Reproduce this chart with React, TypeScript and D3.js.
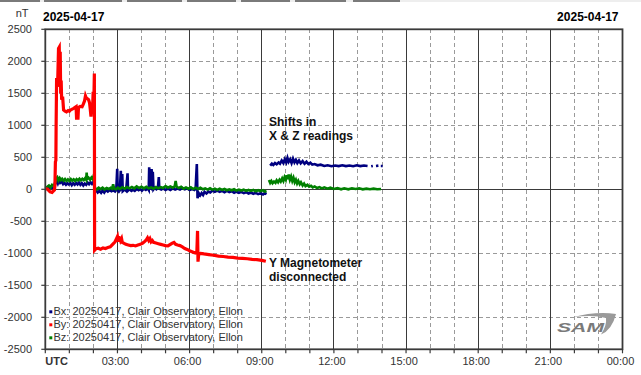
import React from 'react'
import * as d3 from 'd3'

type Pt = [number, number | null]

// hours (UTC) / nT
const bx: Pt[] = [
  [0.0, 10], [0.1, 25], [0.2, 30], [0.3, 20], [0.38, 40], [0.42, 100], [0.47, 130], [0.52, 90],
  [0.57, 140], [0.62, 100], [0.68, 120], [0.74, 80], [0.8, 100], [0.86, 70], [0.92, 95], [0.98, 75],
  [1.04, 100], [1.1, 65], [1.16, 95], [1.22, 70], [1.28, 100], [1.34, 75], [1.4, 105], [1.46, 70],
  [1.52, 95], [1.58, 60], [1.64, 90], [1.7, 70], [1.76, 105], [1.82, 80], [1.88, 110], [1.94, 85],
  [2.0, 115], [2.04, 95], [2.06, -40],
  [2.12, -20], [2.18, -50], [2.25, -25], [2.32, -55], [2.38, -20], [2.45, -50], [2.52, -10],
  [2.6, -35], [2.68, -10], [2.75, -30], [2.82, -15], [2.9, -35], [2.95, -10], [2.99, 320],
  [3.01, -10], [3.06, -35], [3.1, -15], [3.14, 290], [3.16, -20], [3.2, 240], [3.22, -30],
  [3.3, -5], [3.36, -25], [3.42, 250], [3.44, -20], [3.5, 0], [3.58, -25], [3.65, -5], [3.72, -25],
  [3.8, 5], [3.88, -15], [3.95, 5], [4.02, -20], [4.1, 10], [4.18, -10], [4.26, 15], [4.3, -10],
  [4.32, 345], [4.36, 0], [4.42, 315], [4.45, -20], [4.47, 275], [4.5, 0], [4.55, 25], [4.62, 0],
  [4.68, 20], [4.72, 190], [4.74, 10], [4.82, -5], [4.9, 15], [5.0, -10], [5.1, 10], [5.2, -10],
  [5.3, 15], [5.4, -5], [5.5, 10], [5.6, -5], [5.7, 20], [5.8, 0], [5.9, 15], [6.0, -10],
  [6.1, 5], [6.2, -10], [6.25, 10], [6.3, 395], [6.33, -140], [6.38, -60], [6.44, -95],
  [6.5, -60], [6.56, -90], [6.62, -40], [6.7, -65], [6.78, -35], [6.86, -50], [6.95, -20],
  [7.05, -40], [7.15, -20], [7.25, -40], [7.35, -25], [7.45, -45], [7.55, -25], [7.65, -45],
  [7.75, -30], [7.85, -55], [7.95, -35], [8.05, -55], [8.15, -40], [8.25, -60], [8.35, -45],
  [8.45, -65], [8.55, -50], [8.65, -70], [8.75, -55], [8.85, -75], [8.95, -60], [9.05, -80],
  [9.12, -60], [9.2, -75],
  [9.25, null],
  [9.35, 370], [9.42, 400], [9.48, 380], [9.55, 410], [9.62, 390], [9.7, 420], [9.76, 400],
  [9.83, 450], [9.9, 410], [9.96, 470], [10.02, 420], [10.07, 490], [10.12, 430], [10.18, 470],
  [10.24, 410], [10.3, 480], [10.36, 420], [10.42, 460], [10.48, 410], [10.55, 450], [10.62, 405],
  [10.7, 440], [10.78, 400], [10.86, 430], [10.94, 395], [11.02, 415], [11.1, 385], [11.2, 395],
  [11.32, 375], [11.45, 385], [11.6, 365], [11.74, 375], [11.9, 360], [12.05, 372], [12.2, 362],
  [12.35, 375], [12.5, 362], [12.65, 372], [12.8, 360], [12.95, 375], [13.1, 362], [13.25, 372],
  [13.4, 365],
  [13.47, null], [13.55, 360], [13.62, 365], [13.68, null], [13.75, 365], [13.85, 370],
  [13.9, null], [13.95, 365], [14.03, 365],
]

const by: Pt[] = [
  [0.0, 10], [0.1, 0], [0.15, -20], [0.2, -40], [0.28, -50], [0.33, -30], [0.38, -10], [0.4, 60],
  [0.42, 430], [0.44, 450], [0.45, 1000], [0.47, 1740], [0.5, 1600], [0.52, 1750], [0.55, 2200],
  [0.58, 2220], [0.6, 1700], [0.62, 2150], [0.64, 1500], [0.66, 1700], [0.68, 1400], [0.72, 1450],
  [0.76, 1240], [0.82, 1220], [0.88, 1210], [0.95, 1230], [1.0, 1220], [1.05, 1240], [1.1, 1250],
  [1.18, 1265], [1.24, 1280], [1.28, 1290], [1.3, 1110], [1.36, 1110], [1.38, 1280], [1.45, 1295],
  [1.53, 1290], [1.58, 1330], [1.63, 1380], [1.67, 1460], [1.7, 1430], [1.74, 1420], [1.8, 1400],
  [1.84, 1350], [1.87, 1250], [1.9, 1135], [1.93, 1300], [1.96, 1200], [1.99, 1525], [2.02, 1400],
  [2.04, 1810], [2.05, -950], [2.1, -930], [2.2, -920], [2.3, -935], [2.4, -915], [2.5, -925],
  [2.6, -910], [2.7, -900], [2.75, -880], [2.8, -860], [2.85, -840], [2.9, -820], [2.95, -780],
  [3.0, -740], [3.03, -820], [3.06, -750], [3.1, -760], [3.13, -800], [3.17, -770], [3.2, -830],
  [3.26, -840], [3.35, -860], [3.45, -870], [3.55, -880], [3.65, -875], [3.75, -885], [3.85, -870],
  [3.95, -860], [4.05, -840], [4.15, -810], [4.2, -790], [4.25, -760], [4.3, -800], [4.35, -770],
  [4.4, -820], [4.45, -800], [4.5, -830], [4.6, -840], [4.7, -850], [4.8, -860], [4.9, -870],
  [5.0, -880], [5.1, -885], [5.2, -860], [5.28, -840], [5.35, -830], [5.42, -860], [5.5, -870],
  [5.6, -880], [5.7, -900], [5.8, -925], [5.9, -940], [6.0, -960], [6.1, -975], [6.2, -990],
  [6.3, -1000], [6.33, -650], [6.35, -1130], [6.38, -1010], [6.45, -1000], [6.6, -1010],
  [6.8, -1020], [7.0, -1030], [7.2, -1045], [7.4, -1050], [7.6, -1060], [7.8, -1065],
  [8.0, -1075], [8.2, -1080], [8.4, -1085], [8.6, -1095], [8.8, -1100], [9.0, -1110], [9.17, -1125],
]

const bz: Pt[] = [
  [0.0, 20], [0.08, 40], [0.15, 60], [0.22, 30], [0.28, 70], [0.35, 50], [0.4, 100], [0.42, 110],
  [0.45, 170], [0.5, 190], [0.55, 140], [0.6, 175], [0.65, 145], [0.7, 165], [0.76, 135],
  [0.82, 160], [0.88, 130], [0.94, 155], [1.0, 130], [1.06, 160], [1.12, 135], [1.18, 155],
  [1.24, 130], [1.3, 160], [1.36, 140], [1.42, 165], [1.48, 140], [1.54, 165], [1.6, 145],
  [1.66, 175], [1.7, 150], [1.72, 260], [1.74, 160], [1.8, 180], [1.86, 150], [1.92, 185],
  [1.97, 160], [2.01, 210], [2.04, 180], [2.06, 20],
  [2.14, 0], [2.22, 25], [2.3, 5], [2.38, 25], [2.46, 0], [2.55, 20], [2.64, 5], [2.72, 25],
  [2.78, 10], [2.82, 80], [2.86, 15], [2.94, 0], [3.02, 25], [3.1, 5], [3.2, 30], [3.3, 10],
  [3.4, 35], [3.5, 15], [3.6, 35], [3.7, 15], [3.8, 45], [3.9, 20], [4.0, 40], [4.1, 15],
  [4.2, 40], [4.3, 15], [4.4, 30], [4.5, 10], [4.6, 35], [4.7, 15], [4.8, 35], [4.9, 20],
  [5.0, 50], [5.1, 25], [5.2, 45], [5.3, 25], [5.38, 45], [5.42, 130], [5.46, 40], [5.55, 20],
  [5.65, 40], [5.75, 10], [5.85, 30], [5.95, 10], [6.05, 30], [6.15, 5], [6.25, 25], [6.35, 5],
  [6.45, 25], [6.55, 0], [6.65, 15], [6.75, -5], [6.85, 15], [6.95, -5], [7.05, 10], [7.15, -10],
  [7.25, 10], [7.35, -10], [7.45, 5], [7.55, -15], [7.65, 0], [7.75, -15], [7.85, 0], [7.95, -20],
  [8.05, -5], [8.15, -20], [8.25, -5], [8.35, -25], [8.45, -10], [8.55, -25], [8.65, -10],
  [8.75, -30], [8.85, -15], [8.95, -30], [9.05, -15], [9.12, -35], [9.2, -25],
  [9.25, null],
  [9.3, 145], [9.35, 100], [9.4, 130], [9.45, 95], [9.51, 120], [9.57, 100], [9.62, 140],
  [9.68, 110], [9.74, 150], [9.79, 120], [9.85, 170], [9.9, 130], [9.95, 190], [10.0, 150],
  [10.04, 220], [10.08, 160], [10.12, 230], [10.17, 150], [10.22, 200], [10.27, 130], [10.32, 180],
  [10.37, 110], [10.42, 150], [10.47, 90], [10.52, 130], [10.58, 80], [10.63, 110], [10.7, 60],
  [10.76, 90], [10.82, 50], [10.9, 70], [10.97, 40], [11.05, 55], [11.12, 30], [11.2, 45],
  [11.3, 20], [11.4, 35], [11.5, 15], [11.6, 30], [11.74, 10], [11.85, 25], [12.0, 5], [12.15, 20],
  [12.3, 0], [12.43, 15], [12.6, 0], [12.75, 15], [12.9, 5], [13.05, 15], [13.2, 0], [13.35, 10],
  [13.5, 0], [13.65, 10], [13.8, 0], [13.96, 5],
]

const series = [
  { name: 'Bx', data: bx, color: '#000080', width: 2.6 },
  { name: 'Bz', data: bz, color: '#008000', width: 2.6 },
  { name: 'By', data: by, color: '#ff0000', width: 3.2 },
]
const legendItems = [
  { label: 'Bx: 20250417, Clair Observatory, Ellon', color: '#000080' },
  { label: 'By: 20250417, Clair Observatory, Ellon', color: '#ff0000' },
  { label: 'Bz: 20250417, Clair Observatory, Ellon', color: '#008000' },
]
const yTicks = [2500, 2000, 1500, 1000, 500, 0, -500, -1000, -1500, -2000, -2500]
const xLabels = ['UTC', '03:00', '06:00', '09:00', '12:00', '15:00', '18:00', '21:00', '00:00']
const dateLabel = '2025-04-17'

const W = 641
const H = 375
const font = 'Liberation Sans, Arial, sans-serif'

export default function App() {
  const x = d3.scaleLinear().domain([0, 24]).range([45.3, 622.5])
  const y = d3.scaleLinear().domain([-2500, 2500]).range([349.3, 29.3])
  const line = d3.line<Pt>()
    .defined((d) => d[1] !== null)
    .x((d) => x(d[0]))
    .y((d) => y(d[1] as number))

  const hours = d3.range(0, 25)

  return (
    <svg width={W} height={H} style={{ position: 'absolute', left: 0, top: 0, background: '#fff' }}
      fontFamily={font}>
      {/* strip at the very top */}
      <rect x={0} y={0} width={W} height={2} fill="#eeeeee" />
      {[[0, 40], [44, 122], [127, 182], [187, 236], [241, 290], [295, 346], [353, 400]].map(([a, b], i) => (
        <rect key={i} x={a} y={0} width={b - a} height={2} fill="#7a7a7a" />
      ))}

      {/* grid */}
      <g shapeRendering="crispEdges">
        {yTicks.filter((t) => t !== 0 && Math.abs(t) !== 2500).map((t) => (
          <line key={t} x1={x(0)} x2={x(24)} y1={y(t)} y2={y(t)} stroke="#9a9a9a" strokeDasharray="4,3" />
        ))}
        {hours.filter((h) => h % 3 !== 0).map((h) => (
          <line key={h} x1={x(h)} x2={x(h)} y1={y(2500)} y2={y(-2500)} stroke="#9a9a9a" strokeDasharray="4,3" />
        ))}
        {hours.filter((h) => h % 3 === 0 && h > 0 && h < 24).map((h) => (
          <line key={h} x1={x(h)} x2={x(h)} y1={y(2500)} y2={y(-2500)} stroke="#3a3a3a" strokeWidth={1} />
        ))}
        <line x1={x(0)} x2={x(24)} y1={y(0)} y2={y(0)} stroke="#3a3a3a" strokeWidth={1} />
      </g>

      {/* data */}
      {series.map((s) => (
        <path key={s.name} d={line(s.data) || ''} fill="none" stroke={s.color}
          strokeWidth={s.width} strokeLinejoin="miter" />
      ))}

      {/* frame */}
      <rect x={x(0)} y={y(2500)} width={x(24) - x(0)} height={y(-2500) - y(2500)}
        fill="none" stroke="#3a3a3a" strokeWidth={1.8} />
      {/* ticks */}
      {hours.map((h) => (
        <line key={h} x1={x(h)} x2={x(h)} y1={y(-2500)} y2={y(-2500) + 4} stroke="#3a3a3a" strokeWidth={1.2} />
      ))}
      {yTicks.map((t) => (
        <line key={t} x1={x(0) - 4} x2={x(0)} y1={y(t)} y2={y(t)} stroke="#3a3a3a" strokeWidth={1.2} />
      ))}

      {/* axis labels */}
      {yTicks.map((t) => (
        <text key={t} x={32} y={y(t) + 3.8} textAnchor="end" fontSize={11} fill="#333">{t}</text>
      ))}
      {xLabels.map((l, i) => i === 0 ? (
        <text key={l} x={x(0)} y={365} fontSize={11} fontWeight="bold" fill="#333">{l}</text>
      ) : (
        <text key={l} x={x(i * 3) - 2} y={365} fontSize={11} textAnchor="middle" fill="#333">{l}</text>
      ))}
      <text x={28.5} y={17} textAnchor="end" fontSize={11} fill="#333">nT</text>
      <text x={43} y={20.5} fontSize={12} fontWeight="bold" fill="#000">{dateLabel}</text>
      <text x={618.5} y={20.5} fontSize={12} fontWeight="bold" fill="#000" textAnchor="end">{dateLabel}</text>

      {/* annotations */}
      <g fontSize={12} fontWeight="bold" fill="#111">
        <text x={269} y={126}>Shifts in</text>
        <text x={269} y={139.5}>X &amp; Z readings</text>
        <text x={269} y={267}>Y Magnetometer</text>
        <text x={269} y={280.5}>disconnected</text>
      </g>

      {/* legend */}
      {legendItems.map((it, i) => (
        <g key={it.label}>
          <rect x={49.3} y={310.3 + i * 13} width={3} height={3} fill={it.color} />
          <text x={53.5} y={314.5 + i * 13} fontSize={11} fill="#333">{it.label}</text>
        </g>
      ))}

      {/* SAM logo */}
      <g>
        <path d="M 572 317.5 Q 596 311 616 314 Q 612 330 601 334.5 Q 607 325 606 318 Q 592 314.5 572 317.5 Z"
          fill="#9a9a9a" />
        <text x={557} y={331.5} fontSize={12} fontStyle="italic" fontWeight="bold" fill="#7a7a7a"
          textLength={47} lengthAdjust="spacingAndGlyphs">SAM</text>
      </g>
    </svg>
  )
}
